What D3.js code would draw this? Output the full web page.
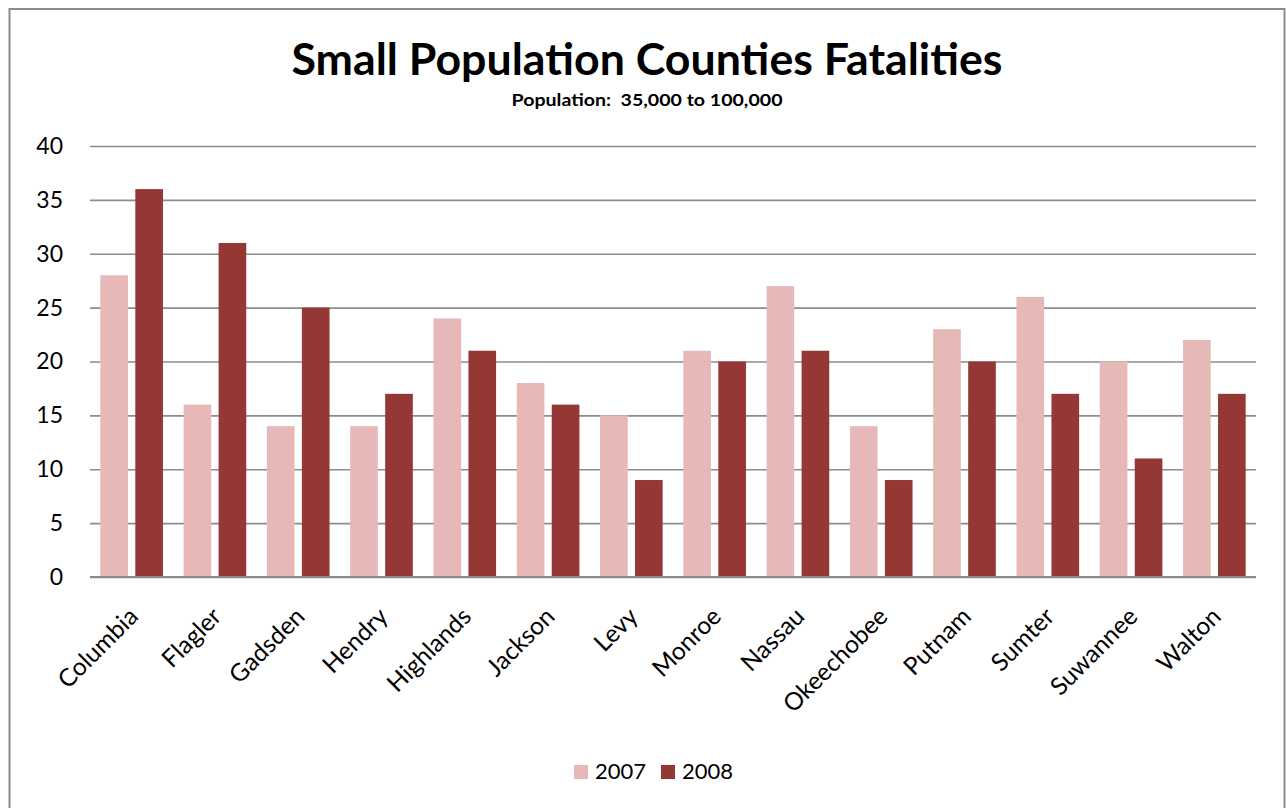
<!DOCTYPE html>
<html><head><meta charset="utf-8">
<script src="https://cdn.jsdelivr.net/npm/d3@7"></script>
<style>html,body{margin:0;padding:0;background:#fff;}svg{display:block;}</style>
</head><body>
<svg id="c" width="1286" height="808"></svg>
<script>
const categories = ["Columbia","Flagler","Gadsden","Hendry","Highlands","Jackson","Levy","Monroe","Nassau","Okeechobee","Putnam","Sumter","Suwannee","Walton"];
const series = ["2007","2008"];
const values2007 = [28,16,14,14,24,18,15,21,27,14,23,26,20,22];
const values2008 = [36,31,25,17,21,16,9,20,21,9,20,17,11,17];
const yTicks = [0,5,10,15,20,25,30,35,40];
const colors = ["#E6B9B8","#953735"];
const titleText = "Small Population Counties Fatalities";
const subtitleText = "Population:  35,000 to 100,000";

const font = "Lato, 'Open Sans', sans-serif";
const svg = d3.select("#c");
svg.append("rect").attr("x",9.5).attr("y",9).attr("width",1275).attr("height",820)
  .attr("fill","#fff").attr("stroke","#8c8c8c").attr("stroke-width",2);

const x = d3.scaleBand().domain(categories).range([90,1256]).padding(0);
const bw = x.bandwidth();
const x1 = d3.scaleBand().domain(series).range([bw*0.124, bw*0.876]).paddingInner(0.21);
const y = d3.scaleLinear().domain([0,40]).range([577,146]);

// gridlines
const yAxis = d3.axisLeft(y).tickValues(yTicks).tickSize(-(1256-90)).tickPadding(27);
const gy = svg.append("g").attr("transform","translate(90,0)").call(yAxis);
gy.select(".domain").remove();
gy.selectAll(".tick line").attr("stroke","#8c8c8c").attr("stroke-width",1.6);
gy.selectAll(".tick text").attr("font-family",font).attr("font-size",23).attr("fill","#000");

const data = categories.map((c,i)=>({cat:c, vals:[values2007[i], values2008[i]]}));
const groups = svg.append("g").selectAll("g").data(data).join("g")
  .attr("transform",d=>`translate(${x(d.cat)},0)`);
groups.selectAll("rect").data(d=>d.vals.map((v,j)=>({s:series[j],v,j}))).join("rect")
  .attr("x",d=>x1(d.s)).attr("width",x1.bandwidth())
  .attr("y",d=>y(d.v)).attr("height",d=>y(0)-y(d.v))
  .attr("fill",d=>colors[d.j]);

// baseline
svg.append("line").attr("x1",90).attr("x2",1256).attr("y1",y(0)).attr("y2",y(0))
  .attr("stroke","#8c8c8c").attr("stroke-width",2);

// x labels
const xAxis = d3.axisBottom(x).tickSize(0).tickPadding(0);
const gx = svg.append("g").attr("transform",`translate(0,${y(0)})`).call(xAxis);
gx.select(".domain").remove();
gx.selectAll(".tick text")
  .attr("font-family",font).attr("font-size",24.5).attr("fill","#000")
  .attr("text-anchor","end").attr("dy",null).attr("y",null)
  .attr("transform","translate(8,41) rotate(-45)");

// title
svg.append("text").attr("x",647).attr("y",75).attr("text-anchor","middle")
  .attr("font-family",font).attr("font-weight","bold").attr("font-size",44)
  .attr("textLength",711).attr("lengthAdjust","spacingAndGlyphs").text(titleText);
svg.append("text").attr("x",647).attr("y",106).attr("text-anchor","middle")
  .attr("font-family",font).attr("font-weight","bold").attr("font-size",17)
  .style("white-space","pre")
  .attr("textLength",271).attr("lengthAdjust","spacingAndGlyphs").text(subtitleText);

// legend
const legX = [574, 661];
const lg = svg.append("g").selectAll("g").data(series).join("g")
  .attr("transform",(d,i)=>`translate(${legX[i]},765)`);
lg.append("rect").attr("width",14).attr("height",14).attr("fill",(d,i)=>colors[i]);
lg.append("text").attr("x",21).attr("y",14).attr("font-family",font).attr("font-size",22)
  .attr("fill","#000").text(d=>d);
</script>
</body></html>
